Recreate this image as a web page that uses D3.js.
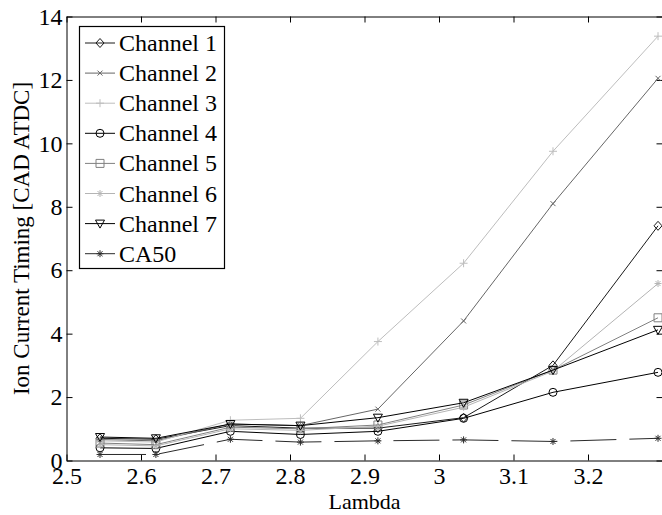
<!DOCTYPE html>
<html>
<head>
<meta charset="utf-8">
<script src="https://cdn.jsdelivr.net/npm/d3@7"></script>
<style>
  html, body { margin: 0; padding: 0; background: #fff; }
  svg { display: block; }
  text { font-family: "Liberation Serif", "Times New Roman", serif; fill: #000; }
</style>
</head>
<body>
<svg id="chart" width="662" height="515"></svg>
<script>
// Lambda sweep points
const lambda = [2.545, 2.62, 2.72, 2.814, 2.918, 3.033, 3.153, 3.294];

// Ion current timing per channel [CAD ATDC]
const channel1 = [0.70, 0.67, 1.10, 1.02, 1.02, 1.35, 3.00, 7.40];
const channel2 = [0.66, 0.62, 1.15, 1.10, 1.62, 4.40, 8.10, 12.05];
const channel3 = [0.62, 0.58, 1.27, 1.33, 3.75, 6.22, 9.75, 13.38];
const channel4 = [0.40, 0.38, 0.92, 0.82, 0.92, 1.33, 2.15, 2.78];
const channel5 = [0.55, 0.50, 1.05, 1.00, 1.12, 1.75, 2.85, 4.50];
const channel6 = [0.50, 0.46, 1.00, 0.95, 1.08, 1.68, 2.82, 5.58];
const channel7 = [0.74, 0.70, 1.15, 1.10, 1.35, 1.82, 2.85, 4.12];
const ca50     = [0.19, 0.19, 0.67, 0.58, 0.62, 0.65, 0.60, 0.70];

const seriesNames = ["Channel 1", "Channel 2", "Channel 3", "Channel 4",
                     "Channel 5", "Channel 6", "Channel 7", "CA50"];

const xTicks = [2.5, 2.6, 2.7, 2.8, 2.9, 3.0, 3.1, 3.2];
const yTicks = [0, 2, 4, 6, 8, 10, 12, 14];

const series = [
  { name: seriesNames[0], values: channel1, color: "#1a1a1a", marker: "diamond" },
  { name: seriesNames[1], values: channel2, color: "#666666", marker: "x" },
  { name: seriesNames[2], values: channel3, color: "#bdbdbd", marker: "plus" },
  { name: seriesNames[3], values: channel4, color: "#000000", marker: "circle" },
  { name: seriesNames[4], values: channel5, color: "#808080", marker: "square" },
  { name: seriesNames[5], values: channel6, color: "#b4b4b4", marker: "star" },
  { name: seriesNames[6], values: channel7, color: "#000000", marker: "triangle" },
  { name: seriesNames[7], values: ca50,     color: "#2a2a2a", marker: "star", dash: "46,13" }
];

const svg = d3.select("#chart");
const plot = { left: 66.5, right: 662.5, top: 16.5, bottom: 460.5 };

const x = d3.scaleLinear().domain([2.5, 3.3]).range([plot.left, plot.right]);
const y = d3.scaleLinear().domain([0, 14]).range([plot.bottom, plot.top]);

// Unfilled marker outlines centred on (0,0)
function markerPath(type) {
  switch (type) {
    case "diamond":  return "M0,-4.5L4,0L0,4.5L-4,0Z";
    case "x":        return "M-2.5,-2.5L2.5,2.5M-2.5,2.5L2.5,-2.5";
    case "plus":     return "M-4,0L4,0M0,-4L0,4";
    case "circle":   return "M4,0A4,4 0 1,1 -4,0A4,4 0 1,1 4,0Z";
    case "square":   return "M-4,-4L4,-4L4,4L-4,4Z";
    case "triangle": return "M-4.5,-3.5L4.5,-3.5L0,4.5Z";
    case "star":     return "M-3.5,0L3.5,0M0,-3.5L0,3.5M-2.5,-2.5L2.5,2.5M-2.5,2.5L2.5,-2.5";
  }
}

const clip = svg.append("defs").append("clipPath").attr("id", "plotClip")
  .append("rect").attr("x", plot.left).attr("y", plot.top - 6)
  .attr("width", plot.right - plot.left + 6).attr("height", plot.bottom - plot.top + 12);

// Axes box with inward ticks on all four sides
const tickLen = 6;
const axisG = svg.append("g");
axisG.append("g").attr("transform", `translate(0,${plot.bottom})`)
  .call(d3.axisBottom(x).tickValues(xTicks).tickSizeInner(-tickLen).tickSizeOuter(0).tickPadding(6)
    .tickFormat(d3.format("")));
axisG.append("g").attr("transform", `translate(0,${plot.top})`)
  .call(d3.axisTop(x).tickValues(xTicks).tickSizeInner(-tickLen).tickSizeOuter(0).tickFormat(""));
axisG.append("g").attr("transform", `translate(${plot.left},0)`)
  .call(d3.axisLeft(y).tickValues(yTicks).tickSizeInner(-tickLen).tickSizeOuter(0).tickPadding(4)
    .tickFormat(d3.format("")));
axisG.append("g").attr("transform", `translate(${plot.right},0)`)
  .call(d3.axisRight(y).tickValues(yTicks).tickSizeInner(-tickLen).tickSizeOuter(0).tickFormat(""));

axisG.selectAll(".domain").attr("stroke", "#000").attr("stroke-width", 1);
axisG.selectAll(".tick line").attr("stroke", "#000").attr("stroke-width", 1);
axisG.selectAll(".tick text")
  .style("font-family", "'Liberation Serif', 'Times New Roman', serif")
  .style("font-size", "24px").attr("fill", "#000");

// Axis titles
svg.append("text")
  .attr("x", (plot.left + plot.right) / 2).attr("y", 509)
  .attr("text-anchor", "middle").style("font-size", "22px").text("Lambda");
svg.append("text")
  .attr("transform", `translate(29,${(plot.top + plot.bottom) / 2}) rotate(-90)`)
  .attr("text-anchor", "middle").style("font-size", "23px").text("Ion Current Timing [CAD ATDC]");

// Data lines and markers
const line = d3.line().x((d, i) => x(lambda[i])).y(d => y(d));
const dataG = svg.append("g").attr("clip-path", "url(#plotClip)");
series.forEach(s => {
  dataG.append("path")
    .attr("d", line(s.values))
    .attr("fill", "none").attr("stroke", s.color).attr("stroke-width", 1)
    .attr("stroke-dasharray", s.dash || null);
  dataG.selectAll(null).data(s.values).enter().append("path")
    .attr("transform", (d, i) => `translate(${x(lambda[i])},${y(d)})`)
    .attr("d", markerPath(s.marker))
    .attr("fill", "none").attr("stroke", s.color).attr("stroke-width", 1);
});

// Legend
const legend = { x: 79.5, y: 26.5, w: 145, h: 242, row: 30.1, first: 43 };
const legG = svg.append("g");
legG.append("rect")
  .attr("x", legend.x).attr("y", legend.y).attr("width", legend.w).attr("height", legend.h)
  .attr("fill", "#fff").attr("stroke", "#000").attr("stroke-width", 1.2);
series.forEach((s, i) => {
  const cy = legend.first + i * legend.row;
  legG.append("line")
    .attr("x1", 85).attr("x2", 115).attr("y1", cy).attr("y2", cy)
    .attr("stroke", s.color).attr("stroke-width", 1);
  legG.append("path")
    .attr("transform", `translate(100,${cy})`)
    .attr("d", markerPath(s.marker))
    .attr("fill", "none").attr("stroke", s.color).attr("stroke-width", 1);
  legG.append("text")
    .attr("x", 119).attr("y", cy + 8)
    .style("font-size", "24px").text(s.name);
});
</script>
</body>
</html>
